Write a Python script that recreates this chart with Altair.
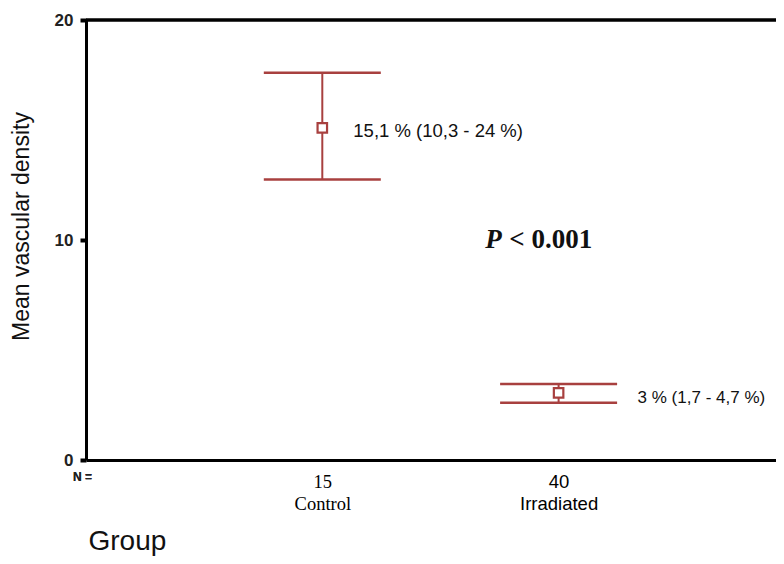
import altair as alt
import pandas as pd

groups = ["Control", "Irradiated"]
group_pos = [1, 2]
n_values = [15, 40]
means = [15.1, 3.05]
upper = [17.6, 3.45]
lower = [12.75, 2.6]
labels = ["15,1 % (10,3 - 24 %)", "3 % (1,7 - 4,7 %)"]
y_ticks = [0, 10, 20]
p_text = ["P", "< 0.001"]

df = pd.DataFrame({
    "pos": group_pos, "group": groups, "n": n_values,
    "mean": means, "hi": upper, "lo": lower, "label": labels,
})

RED = "#a8403f"
XMAX = 2.92
xscale = alt.Scale(domain=[0, XMAX], nice=False, zero=False)
yscale = alt.Scale(domain=[0, 20], nice=False)

label_expr = "datum.value == 1 ? ['%s', '%s'] : ['%s', '%s']" % (
    n_values[0], groups[0], n_values[1], groups[1])

xaxis = alt.Axis(
    values=group_pos, grid=False, ticks=False, domainWidth=3, domainColor="black",
    labelExpr=label_expr,
    labelFont={"condition": {"test": "datum.value == 1", "value": "Liberation Serif"},
               "value": "Liberation Sans"},
    labelFontSize=18.5, labelLineHeight=22, labelPadding=12, labelColor="#000",
    titleFont="Liberation Sans", titleFontSize=28, titleFontWeight="normal",
    titleColor="#111", titleAnchor="start", titleAlign="left", titleX=2, titleY=89,
    titleBaseline="alphabetic",
)
yaxis = alt.Axis(
    values=y_ticks, grid=False, domainWidth=3, domainColor="black",
    tickColor="black", tickWidth=4, tickSize=6,
    labelFont="Liberation Sans", labelFontSize=17, labelFontWeight="bold",
    labelColor="#222", labelPadding=7,
    titleFont="Liberation Sans", titleFontSize=23, titleFontWeight="normal",
    titleColor="#111", titleAngle=-90, titleX=-58, titleY=206,
    titleAlign="center", titleBaseline="alphabetic",
)


def X(field="pos"):
    return alt.X(f"{field}:Q", scale=xscale, axis=xaxis, title="Group")


def Y(field):
    return alt.Y(f"{field}:Q", scale=yscale, axis=yaxis, title="Mean vascular density")


base = alt.Chart(df)

stem = base.mark_rule(color=RED, strokeWidth=2).encode(x=X(), y=Y("lo"), y2="hi:Q")
cap_hi = base.mark_tick(color=RED, orient="horizontal", size=117, thickness=2.5, opacity=1).encode(x=X(), y=Y("hi"))
cap_lo = base.mark_tick(color=RED, orient="horizontal", size=117, thickness=2.5, opacity=1).encode(x=X(), y=Y("lo"))
pts = base.mark_square(size=90, fill="white", stroke=RED, strokeWidth=2.2, opacity=1).encode(x=X(), y=Y("mean"))

lab1 = base.transform_filter(alt.datum.pos == 1).mark_text(
    align="left", baseline="middle", dx=31, dy=3, font="Liberation Sans", fontSize=18.5, color="#111"
).encode(x=X(), y=Y("mean"), text="label:N")
lab2 = base.transform_filter(alt.datum.pos == 2).mark_text(
    align="left", baseline="middle", dx=79, dy=5, font="Liberation Sans", fontSize=17, color="#111"
).encode(x=X(), y=Y("mean"), text="label:N")

pdf = pd.DataFrame({"pos": [1.69, 1.69], "val": [10, 10], "t": p_text, "k": [0, 1]})
p1 = alt.Chart(pdf).transform_filter(alt.datum.k == 0).mark_text(
    align="left", baseline="middle", font="Liberation Serif", fontSize=27,
    fontWeight="bold", fontStyle="italic", color="#111"
).encode(x=X(), y=Y("val"), text="t:N")
p2 = alt.Chart(pdf).transform_filter(alt.datum.k == 1).mark_text(
    align="left", baseline="middle", dx=24, font="Liberation Serif", fontSize=27,
    fontWeight="bold", color="#111"
).encode(x=X(), y=Y("val"), text="t:N")

top = alt.Chart(df).mark_rule(color="black", strokeWidth=3).encode(
    x=alt.datum(0), x2=alt.datum(XMAX), y=alt.datum(20)
)
nlab = alt.Chart(df).mark_text(
    text="N =", align="left", baseline="middle", dx=-13, dy=17,
    font="Liberation Sans", fontSize=12, fontWeight="bold", color="#222"
).encode(x=alt.datum(0), y=alt.datum(0))

chart = alt.layer(top, stem, cap_hi, cap_lo, pts, lab1, lab2, p1, p2, nlab).properties(
    width=690, height=440,
    autosize=alt.AutoSizeParams(type="none"),
    padding={"left": 78, "top": 12, "right": 0, "bottom": 96},
).configure_view(stroke=None)

chart.save("out.html", embed_options={"renderer": "svg", "actions": False})
